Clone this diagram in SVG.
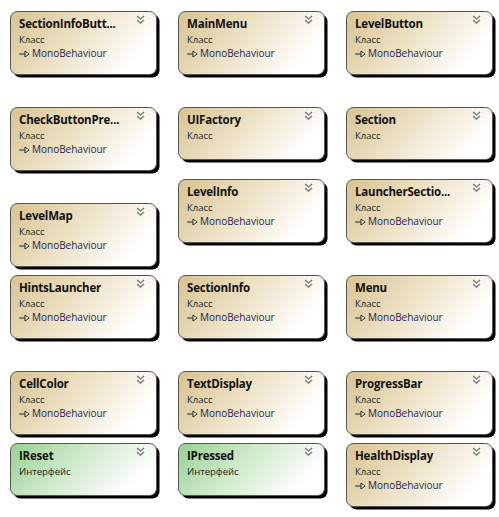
<svg xmlns="http://www.w3.org/2000/svg" width="499" height="517" viewBox="0 0 499 517">
<defs>
<linearGradient id="gc" x1="0" y1="0" x2="1" y2="0.35">
<stop offset="0" stop-color="#d8c291"/>
<stop offset="0.5" stop-color="#ede1c4"/>
<stop offset="1" stop-color="#ffffff"/>
</linearGradient>
<linearGradient id="gi" x1="0" y1="0" x2="1" y2="0.35">
<stop offset="0" stop-color="#98d092"/>
<stop offset="0.5" stop-color="#cfeacb"/>
<stop offset="1" stop-color="#ffffff"/>
</linearGradient>
<g id="chev"><polyline points="0,0 3.5,3 7,0" /><polyline points="0,4 3.5,7 7,4" /></g>
<g id="inh"><line x1="0" y1="0" x2="6" y2="0"/><polygon points="6,-3 10,0 6,3"/></g>
</defs>
<style>
.sh{fill:#000}
.c{fill:url(#gc);stroke:#555;stroke-width:1}
.i{fill:url(#gi);stroke:#555;stroke-width:1}
.t{font-family:"Open Sans","Noto Sans","DejaVu Sans",sans-serif;font-weight:bold;font-size:11.5px;letter-spacing:-0.2px;fill:#111}
.k{font-family:"Open Sans","Noto Sans","DejaVu Sans",sans-serif;font-size:9.5px;fill:#222}
.m{font-family:"Open Sans","Noto Sans","DejaVu Sans",sans-serif;font-size:10px;fill:#1e1e50}
use.ch{fill:none;stroke:#7a7a7a;stroke-width:1.4}
use.ar{fill:#fff;stroke:#222;stroke-width:1}
</style>
<g id="connectors"></g>

<g id="SectionInfoButton" transform="translate(10,11)">
<rect class="sh" x="3.5" y="3.5" width="146" height="63" rx="7"/><rect class="c" x="0.5" y="0.5" width="146" height="63" rx="7"/>
<use class="ch" href="#chev" x="127" y="5"/>
<text class="t" x="9" y="17">SectionInfoButt...</text><text class="k" x="9" y="32">Класс</text>
<use class="ar" href="#inh" x="9" y="43"/><text class="m" x="22" y="46">MonoBehaviour</text>
</g>
<g id="MainMenu" transform="translate(178,11)">
<rect class="sh" x="3.5" y="3.5" width="146" height="63" rx="7"/><rect class="c" x="0.5" y="0.5" width="146" height="63" rx="7"/>
<use class="ch" href="#chev" x="127" y="5"/>
<text class="t" x="9" y="17">MainMenu</text><text class="k" x="9" y="32">Класс</text>
<use class="ar" href="#inh" x="9" y="43"/><text class="m" x="22" y="46">MonoBehaviour</text>
</g>
<g id="LevelButton" transform="translate(346,11)">
<rect class="sh" x="3.5" y="3.5" width="146" height="63" rx="7"/><rect class="c" x="0.5" y="0.5" width="146" height="63" rx="7"/>
<use class="ch" href="#chev" x="127" y="5"/>
<text class="t" x="9" y="17">LevelButton</text><text class="k" x="9" y="32">Класс</text>
<use class="ar" href="#inh" x="9" y="43"/><text class="m" x="22" y="46">MonoBehaviour</text>
</g>

<g id="CheckButtonPressed" transform="translate(10,107)">
<rect class="sh" x="3.5" y="3.5" width="146" height="63" rx="7"/><rect class="c" x="0.5" y="0.5" width="146" height="63" rx="7"/>
<use class="ch" href="#chev" x="127" y="5"/>
<text class="t" x="9" y="17">CheckButtonPre...</text><text class="k" x="9" y="32">Класс</text>
<use class="ar" href="#inh" x="9" y="43"/><text class="m" x="22" y="46">MonoBehaviour</text>
</g>
<g id="UIFactory" transform="translate(178,107)">
<rect class="sh" x="3.5" y="3.5" width="146" height="52" rx="7"/><rect class="c" x="0.5" y="0.5" width="146" height="52" rx="7"/>
<use class="ch" href="#chev" x="127" y="5"/>
<text class="t" x="9" y="17">UIFactory</text><text class="k" x="9" y="32">Класс</text>
</g>
<g id="Section" transform="translate(346,107)">
<rect class="sh" x="3.5" y="3.5" width="146" height="52" rx="7"/><rect class="c" x="0.5" y="0.5" width="146" height="52" rx="7"/>
<use class="ch" href="#chev" x="127" y="5"/>
<text class="t" x="9" y="17">Section</text><text class="k" x="9" y="32">Класс</text>
</g>

<g id="LevelInfo" transform="translate(178,179)">
<rect class="sh" x="3.5" y="3.5" width="146" height="63" rx="7"/><rect class="c" x="0.5" y="0.5" width="146" height="63" rx="7"/>
<use class="ch" href="#chev" x="127" y="5"/>
<text class="t" x="9" y="17">LevelInfo</text><text class="k" x="9" y="32">Класс</text>
<use class="ar" href="#inh" x="9" y="43"/><text class="m" x="22" y="46">MonoBehaviour</text>
</g>
<g id="LauncherSection" transform="translate(346,179)">
<rect class="sh" x="3.5" y="3.5" width="146" height="63" rx="7"/><rect class="c" x="0.5" y="0.5" width="146" height="63" rx="7"/>
<use class="ch" href="#chev" x="127" y="5"/>
<text class="t" x="9" y="17">LauncherSectio...</text><text class="k" x="9" y="32">Класс</text>
<use class="ar" href="#inh" x="9" y="43"/><text class="m" x="22" y="46">MonoBehaviour</text>
</g>
<g id="LevelMap" transform="translate(10,203)">
<rect class="sh" x="3.5" y="3.5" width="146" height="63" rx="7"/><rect class="c" x="0.5" y="0.5" width="146" height="63" rx="7"/>
<use class="ch" href="#chev" x="127" y="5"/>
<text class="t" x="9" y="17">LevelMap</text><text class="k" x="9" y="32">Класс</text>
<use class="ar" href="#inh" x="9" y="43"/><text class="m" x="22" y="46">MonoBehaviour</text>
</g>

<g id="HintsLauncher" transform="translate(10,275)">
<rect class="sh" x="3.5" y="3.5" width="146" height="63" rx="7"/><rect class="c" x="0.5" y="0.5" width="146" height="63" rx="7"/>
<use class="ch" href="#chev" x="127" y="5"/>
<text class="t" x="9" y="17">HintsLauncher</text><text class="k" x="9" y="32">Класс</text>
<use class="ar" href="#inh" x="9" y="43"/><text class="m" x="22" y="46">MonoBehaviour</text>
</g>
<g id="SectionInfo" transform="translate(178,275)">
<rect class="sh" x="3.5" y="3.5" width="146" height="63" rx="7"/><rect class="c" x="0.5" y="0.5" width="146" height="63" rx="7"/>
<use class="ch" href="#chev" x="127" y="5"/>
<text class="t" x="9" y="17">SectionInfo</text><text class="k" x="9" y="32">Класс</text>
<use class="ar" href="#inh" x="9" y="43"/><text class="m" x="22" y="46">MonoBehaviour</text>
</g>
<g id="Menu" transform="translate(346,275)">
<rect class="sh" x="3.5" y="3.5" width="146" height="63" rx="7"/><rect class="c" x="0.5" y="0.5" width="146" height="63" rx="7"/>
<use class="ch" href="#chev" x="127" y="5"/>
<text class="t" x="9" y="17">Menu</text><text class="k" x="9" y="32">Класс</text>
<use class="ar" href="#inh" x="9" y="43"/><text class="m" x="22" y="46">MonoBehaviour</text>
</g>

<g id="CellColor" transform="translate(10,371)">
<rect class="sh" x="3.5" y="3.5" width="146" height="63" rx="7"/><rect class="c" x="0.5" y="0.5" width="146" height="63" rx="7"/>
<use class="ch" href="#chev" x="127" y="5"/>
<text class="t" x="9" y="17">CellColor</text><text class="k" x="9" y="32">Класс</text>
<use class="ar" href="#inh" x="9" y="43"/><text class="m" x="22" y="46">MonoBehaviour</text>
</g>
<g id="TextDisplay" transform="translate(178,371)">
<rect class="sh" x="3.5" y="3.5" width="146" height="63" rx="7"/><rect class="c" x="0.5" y="0.5" width="146" height="63" rx="7"/>
<use class="ch" href="#chev" x="127" y="5"/>
<text class="t" x="9" y="17">TextDisplay</text><text class="k" x="9" y="32">Класс</text>
<use class="ar" href="#inh" x="9" y="43"/><text class="m" x="22" y="46">MonoBehaviour</text>
</g>
<g id="ProgressBar" transform="translate(346,371)">
<rect class="sh" x="3.5" y="3.5" width="146" height="63" rx="7"/><rect class="c" x="0.5" y="0.5" width="146" height="63" rx="7"/>
<use class="ch" href="#chev" x="127" y="5"/>
<text class="t" x="9" y="17">ProgressBar</text><text class="k" x="9" y="32">Класс</text>
<use class="ar" href="#inh" x="9" y="43"/><text class="m" x="22" y="46">MonoBehaviour</text>
</g>

<g id="IReset" transform="translate(10,443)">
<rect class="sh" x="3.5" y="3.5" width="146" height="52" rx="7"/><rect class="i" x="0.5" y="0.5" width="146" height="52" rx="7"/>
<use class="ch" href="#chev" x="127" y="5"/>
<text class="t" x="9" y="17">IReset</text><text class="k" x="9" y="32">Интерфейс</text>
</g>
<g id="IPressed" transform="translate(178,443)">
<rect class="sh" x="3.5" y="3.5" width="146" height="52" rx="7"/><rect class="i" x="0.5" y="0.5" width="146" height="52" rx="7"/>
<use class="ch" href="#chev" x="127" y="5"/>
<text class="t" x="9" y="17">IPressed</text><text class="k" x="9" y="32">Интерфейс</text>
</g>
<g id="HealthDisplay" transform="translate(346,443)">
<rect class="sh" x="3.5" y="3.5" width="146" height="63" rx="7"/><rect class="c" x="0.5" y="0.5" width="146" height="63" rx="7"/>
<use class="ch" href="#chev" x="127" y="5"/>
<text class="t" x="9" y="17">HealthDisplay</text><text class="k" x="9" y="32">Класс</text>
<use class="ar" href="#inh" x="9" y="43"/><text class="m" x="22" y="46">MonoBehaviour</text>
</g>
</svg>
